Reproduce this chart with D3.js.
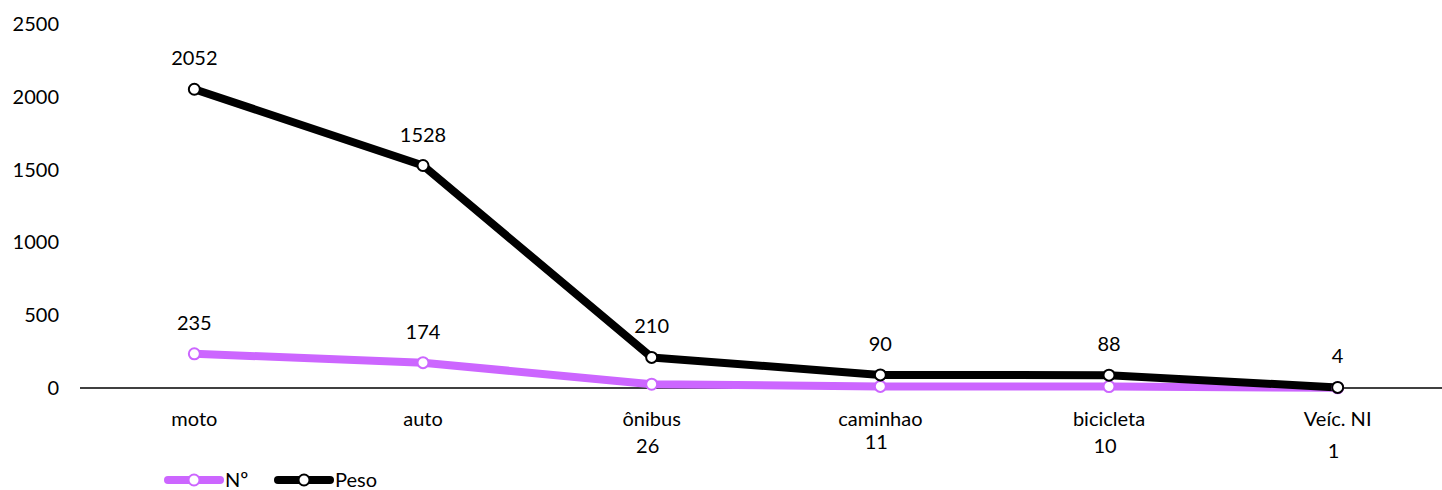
<!DOCTYPE html>
<html><head><meta charset="utf-8">
<script src="https://cdn.jsdelivr.net/npm/d3@7"></script>
<style>body{margin:0;background:#fff;} text{font-family:Lato,"Open Sans",sans-serif;fill:#000;}</style>
</head><body>
<svg id="c" width="1442" height="490"></svg>
<script>
const categories = ["moto","auto","ônibus","caminhao","bicicleta","Veíc. NI"];
const numValues = [235,174,26,11,10,1];
const pesoValues = [2052,1528,210,90,88,4];
const yTicks = [0,500,1000,1500,2000,2500];
const seriesNames = ["Nº","Peso"];
const colors = ["#CC66FF","#000000"];
const FS = "20px";

const svg = d3.select("#c");
const x = d3.scaleBand().domain(categories).range([80,1452]);
const y = d3.scaleLinear().domain([0,2500]).range([388,24]);
const cx = d => x(d) + x.bandwidth()/2;

// y tick labels
svg.append("g").selectAll("text").data(yTicks).join("text")
  .attr("x",59).attr("y",d=>y(d)).attr("dy","0.35em").attr("text-anchor","end")
  .style("font-size",FS).text(d=>d);

// x axis line
svg.append("line").attr("x1",80).attr("x2",1442).attr("y1",y(0)).attr("y2",y(0))
  .attr("stroke","#000").attr("stroke-width",1.5);

// category labels
svg.append("g").selectAll("text").data(categories).join("text")
  .attr("x",d=>cx(d)).attr("y",419).attr("dy","0.35em").attr("text-anchor","middle")
  .style("font-size",FS).text(d=>d);

const line = d3.line().x((d,i)=>cx(categories[i])).y(d=>y(d));
[numValues,pesoValues].forEach((vals,s)=>{
  svg.append("path").datum(vals).attr("d",line).attr("fill","none")
    .attr("stroke",colors[s]).attr("stroke-width",8).attr("stroke-linejoin","round");
});
[numValues,pesoValues].forEach((vals,s)=>{
  svg.append("g").selectAll("circle").data(vals).join("circle")
    .attr("cx",(d,i)=>cx(categories[i])).attr("cy",d=>y(d)).attr("r",5.5)
    .attr("fill","#fff").attr("stroke",colors[s]).attr("stroke-width",2);
});

// Peso labels above
svg.append("g").selectAll("text").data(pesoValues).join("text")
  .attr("x",(d,i)=>cx(categories[i])).attr("y",d=>y(d)-31).attr("dy","0.35em")
  .attr("text-anchor","middle").style("font-size",FS).text(d=>d);

// Nº labels: above for first two, below category for others
const numLabelY = [null,null,446,442,446,451];
svg.append("g").selectAll("text").data(numValues).join("text")
  .attr("x",(d,i)=>cx(categories[i]) - (i>=2?4:0))
  .attr("y",(d,i)=> i<2 ? y(d)-31 : numLabelY[i]).attr("dy","0.35em")
  .attr("text-anchor","middle").style("font-size",FS).text(d=>d);

// legend
const leg = [{x:168},{x:278}];
seriesNames.forEach((n,s)=>{
  const g = svg.append("g");
  const x0 = leg[s].x;
  g.append("line").attr("x1",x0).attr("x2",x0+52).attr("y1",480).attr("y2",480)
    .attr("stroke",colors[s]).attr("stroke-width",8).attr("stroke-linecap","round");
  g.append("circle").attr("cx",x0+26).attr("cy",480).attr("r",5.5)
    .attr("fill","#fff").attr("stroke",colors[s]).attr("stroke-width",2);
  g.append("text").attr("x",x0+57).attr("y",480).attr("dy","0.35em")
    .style("font-size",FS).text(n);
});
</script>
</body></html>
